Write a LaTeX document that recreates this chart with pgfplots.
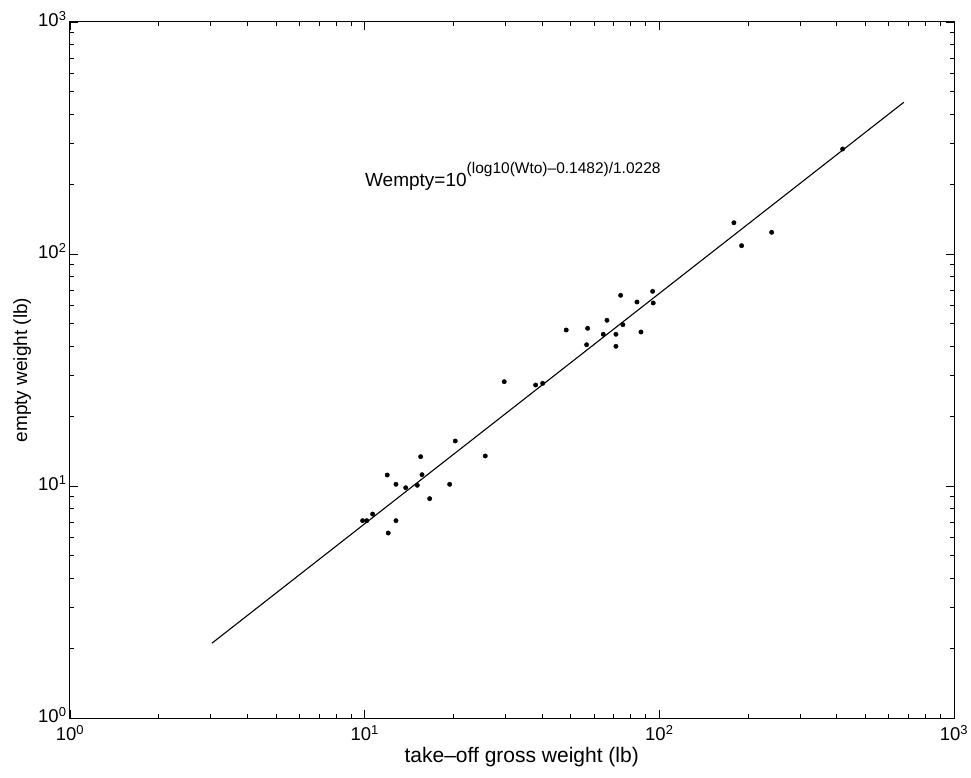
\documentclass[border=0pt]{standalone}
\usepackage{fontspec}
\setmainfont{Liberation Sans}
\usepackage{pgfplots}
\pgfplotsset{compat=1.18}

\begin{document}
\begin{tikzpicture}
\begin{loglogaxis}[
    scale only axis,
    width=884pt, height=696pt,
    xmin=1, xmax=1000,
    ymin=1, ymax=1000,
    xtick={1,10,100,1000},
    ytick={1,10,100,1000},
    xticklabels={10\textsuperscript{0},10\textsuperscript{1},10\textsuperscript{2},10\textsuperscript{3}},
    yticklabels={10\textsuperscript{0},10\textsuperscript{1},10\textsuperscript{2},10\textsuperscript{3}},
    tick label style={font=\fontsize{18.5}{18.5}\selectfont},
    xticklabel style={yshift=-4pt},
    yticklabel style={yshift=3pt},
    major tick length=8pt,
    minor tick length=4pt,
    tick style={black, line width=0.8pt},
    axis line style={line width=1pt},
    xlabel={take--off gross weight (lb)},
    ylabel={empty weight (lb)},
    xlabel style={font=\fontsize{21}{21}\selectfont, at={(axis description cs:0.511,-0.056)}, anchor=center},
    ylabel style={font=\fontsize{19}{19}\selectfont, at={(axis description cs:-0.054,0.5)}, anchor=center},
    clip=false,
]

% fitted line
\addplot[black, line width=1.1pt] coordinates {(3.03,2.10) (676,451)};

% measured aircraft
\addplot[only marks, mark=*, mark size=2.2pt, black] coordinates {
    (9.84,7.09) (10.16,7.09) (10.64,7.57) (11.93,11.15) (12.02,6.27)
    (12.77,10.17) (12.77,7.09) (13.78,9.83) (15.09,10.07) (15.49,13.38)
    (15.65,11.19) (16.62,8.82) (19.43,10.17) (20.30,15.63) (25.66,13.47)
    (29.76,28.16) (38.04,27.24) (40.18,27.71) (48.31,47.03) (56.66,40.64)
    (57.10,47.83) (64.52,45.08) (66.42,51.79) (71.24,45.08) (71.24,40.01)
    (73.90,66.37) (75.23,49.58) (83.95,62.11) (86.61,46.11) (94.91,69.05)
    (95.35,61.49) (179.1,136.4) (190.2,108.6) (240.5,124.0) (418.8,283.5)
};

\node[anchor=base west, inner sep=0pt, font=\fontsize{19}{19}\selectfont]
    at (axis cs:10.02,194.5)
    {Wempty=10\raisebox{13pt}{\fontsize{15.5}{15.5}\selectfont(log10(Wto)--0.1482)/1.0228}};

\end{loglogaxis}
\pgfresetboundingbox
\path[use as bounding box] ([xshift=-70pt,yshift=-59pt]current axis.south west)
    rectangle ([xshift=17pt,yshift=22pt]current axis.north east);
\end{tikzpicture}
\end{document}
